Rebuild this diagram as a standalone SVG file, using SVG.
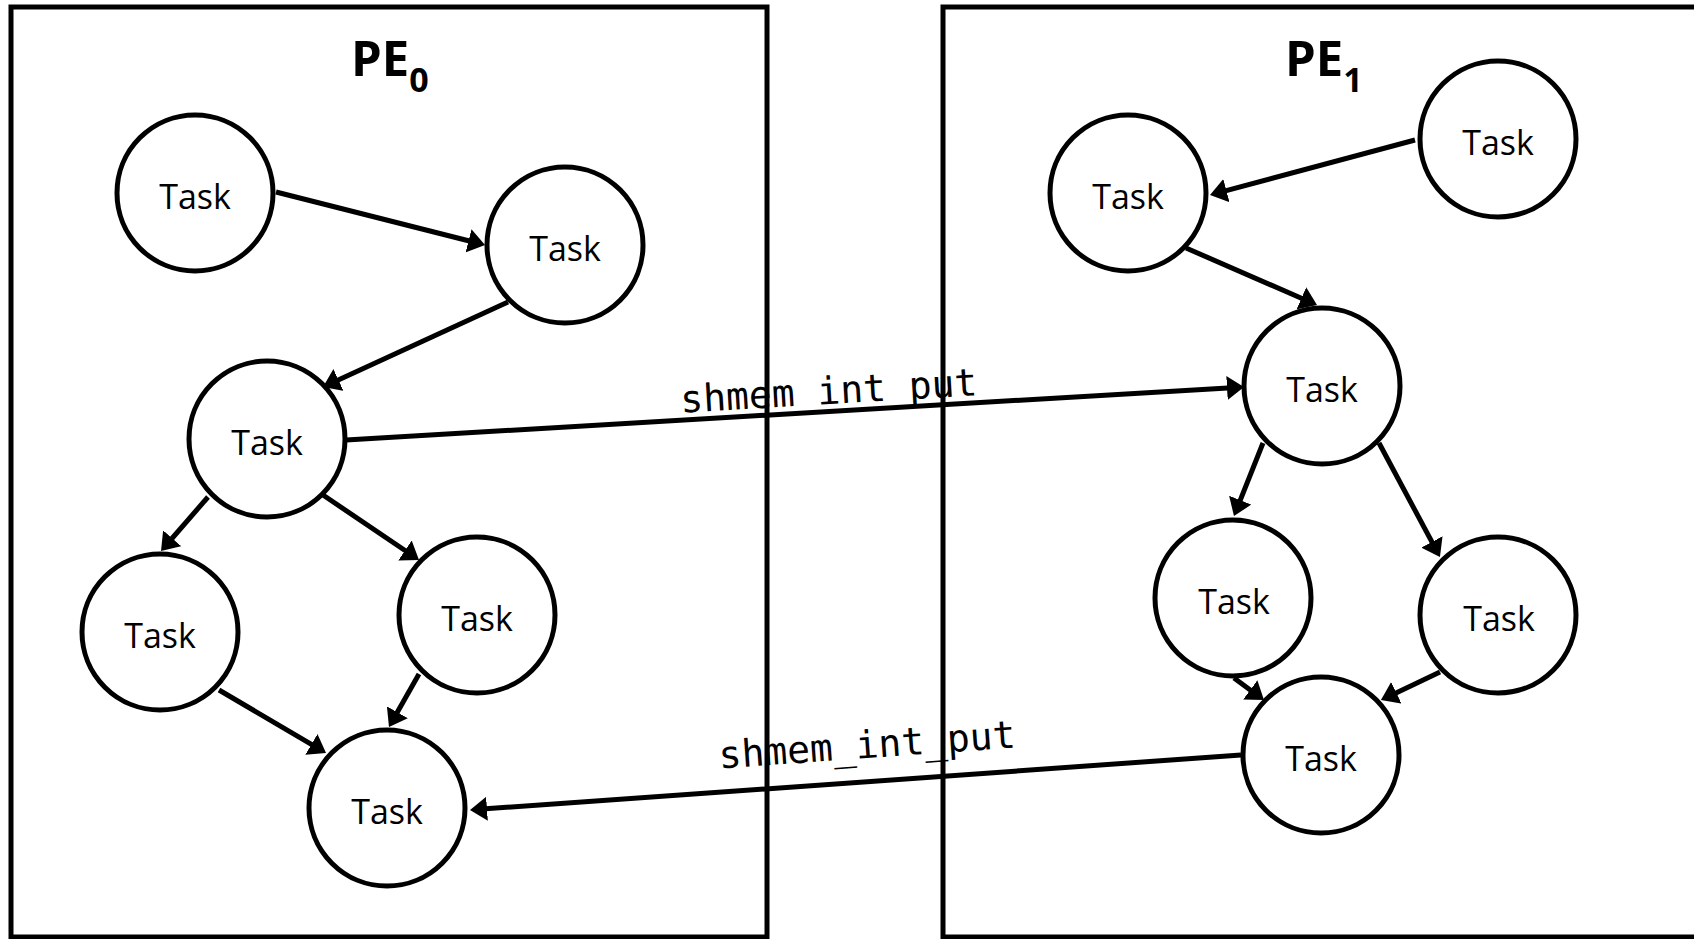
<svg xmlns="http://www.w3.org/2000/svg" width="1694" height="939" viewBox="0 0 1694 939">
  <style>
    .box { fill: none; stroke: #000; stroke-width: 5; }
    .node circle { fill: #fff; stroke: #000; stroke-width: 5; }
    .node text { font-family: "Open Sans", "Noto Sans", sans-serif; font-size: 34px; text-anchor: middle; fill: #000; }
    .title { font-family: "Open Sans", "Noto Sans", sans-serif; font-weight: bold; font-size: 49px; fill: #000; }
    .edge { fill: none; stroke: #000; stroke-width: 5; marker-end: url(#arrow); }
    .lbl { font-family: "DejaVu Sans Mono", "Liberation Mono", monospace; font-size: 38px; text-anchor: middle; fill: #000; }
  </style>
  <defs>
    <marker id="arrow" markerUnits="userSpaceOnUse" markerWidth="17" markerHeight="24" refX="5" refY="12" orient="auto">
      <path d="M0,0 L17,12 L0,24 z" fill="#000"/>
    </marker>
  </defs>
  <rect fill="#fff" x="0" y="0" width="1694" height="939"/>

  <g id="pe0">
    <rect class="box" x="11" y="7" width="756" height="930"/>
    <text class="title" x="351" y="76">PE<tspan font-size="34" dy="15.5">0</tspan></text>
  </g>
  <g id="pe1">
    <rect class="box" x="943" y="7" width="770" height="930"/>
    <text class="title" x="1285" y="76">PE<tspan font-size="34" dy="15.5">1</tspan></text>
  </g>

  <g id="connectors">
    <text class="lbl" transform="translate(829.5,404) rotate(-3.38)">shmem_int_put</text>
    <text class="lbl" transform="translate(867.9,758) rotate(-4.08)">shmem_int_put</text>
    <line class="edge" x1="276" y1="192" x2="473.4" y2="242"/>
    <line class="edge" x1="508" y1="302" x2="333.9" y2="382"/>
    <line class="edge" x1="346" y1="440" x2="1232" y2="387.7"/>
    <line class="edge" x1="208" y1="497" x2="168.9" y2="542"/>
    <line class="edge" x1="323" y1="495" x2="409.1" y2="553.3"/>
    <line class="edge" x1="219" y1="690" x2="315.7" y2="746.9"/>
    <line class="edge" x1="419" y1="674" x2="394.9" y2="716.6"/>
    <line class="edge" x1="1241" y1="755" x2="482" y2="809.1"/>
    <line class="edge" x1="1415" y1="140" x2="1221.6" y2="191.9"/>
    <line class="edge" x1="1186" y1="248" x2="1306" y2="300.2"/>
    <line class="edge" x1="1263" y1="443" x2="1238.4" y2="504.8"/>
    <line class="edge" x1="1379" y1="443" x2="1434.3" y2="546.4"/>
    <line class="edge" x1="1234" y1="678" x2="1254.3" y2="692.9"/>
    <line class="edge" x1="1440" y1="672" x2="1391.8" y2="694.9"/>
  </g>

  <g id="n1" class="node"><circle cx="195" cy="193" r="78"/><text x="195" y="209">Task</text></g>
  <g id="n2" class="node"><circle cx="565" cy="245" r="78"/><text x="565" y="261">Task</text></g>
  <g id="n3" class="node"><circle cx="267" cy="439" r="78"/><text x="267" y="455">Task</text></g>
  <g id="n4" class="node"><circle cx="160" cy="632" r="78"/><text x="160" y="648">Task</text></g>
  <g id="n5" class="node"><circle cx="477" cy="615" r="78"/><text x="477" y="631">Task</text></g>
  <g id="n6" class="node"><circle cx="387" cy="808" r="78"/><text x="387" y="824">Task</text></g>
  <g id="n7" class="node"><circle cx="1128" cy="193" r="78"/><text x="1128" y="209">Task</text></g>
  <g id="n8" class="node"><circle cx="1498" cy="139" r="78"/><text x="1498" y="155">Task</text></g>
  <g id="n9" class="node"><circle cx="1322" cy="386" r="78"/><text x="1322" y="402">Task</text></g>
  <g id="n10" class="node"><circle cx="1233" cy="598" r="78"/><text x="1234" y="614">Task</text></g>
  <g id="n11" class="node"><circle cx="1498" cy="615" r="78"/><text x="1499" y="631">Task</text></g>
  <g id="n12" class="node"><circle cx="1321" cy="755" r="78"/><text x="1321" y="771">Task</text></g>
</svg>
